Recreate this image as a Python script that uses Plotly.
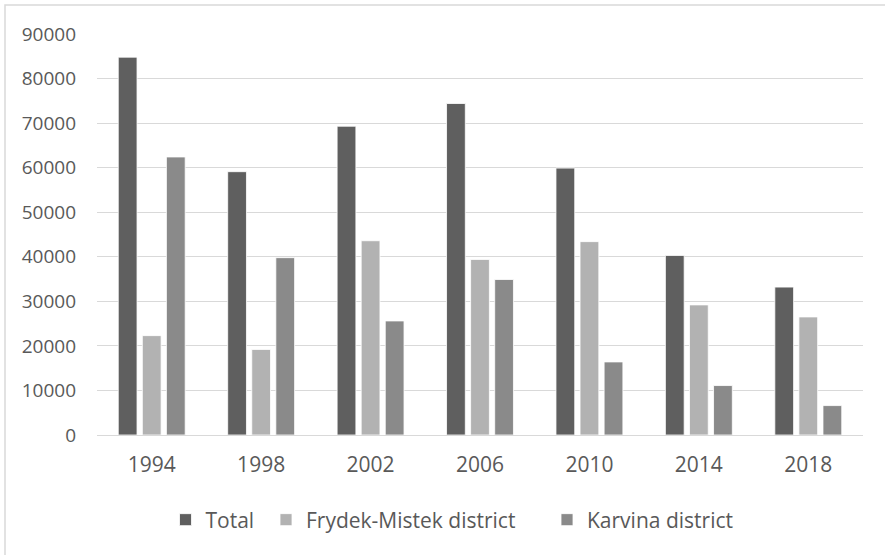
import plotly.graph_objects as go

years = ["1994", "1998", "2002", "2006", "2010", "2014", "2018"]
total = [84800, 59100, 69300, 74400, 59900, 40300, 33200]
frydek = [22300, 19200, 43600, 39400, 43400, 29200, 26500]
karvina = [62400, 39800, 25600, 34900, 16400, 11100, 6600]

series = [
    ("Total", total, "#5f5f5f", "legend"),
    ("Frydek-Mistek district", frydek, "#b2b2b2", "legend2"),
    ("Karvina district", karvina, "#8a8a8a", "legend3"),
]

fig = go.Figure()
for name, vals, col, lg in series:
    fig.add_trace(go.Bar(x=years, y=vals, name=name, legend=lg,
                         marker=dict(color=col, line=dict(color="#ffffff", width=0.8))))

L, R, T, B = 97, 22, 34, 120
W, H = 885, 555
pw, ph = W - L - R, H - T - B

def px(x):
    return (x - L) / pw

def py(y):
    return (H - B - y) / ph

fig.add_shape(type="rect", xref="paper", yref="paper",
              x0=px(5), x1=px(895), y0=py(565), y1=py(5),
              line=dict(color="#d9d9d9", width=1.5), fillcolor="rgba(0,0,0,0)", layer="below")

def leg(xpix):
    return dict(orientation="h", x=px(xpix), xanchor="left", y=py(520), yanchor="middle",
                font=dict(size=21, color="#595959"), itemwidth=30,
                bgcolor="rgba(0,0,0,0)")

fig.update_layout(
    width=W, height=H,
    margin=dict(l=L, r=R, t=T, b=B),
    paper_bgcolor="white", plot_bgcolor="white",
    barmode="group", bargap=0.34, bargroupgap=0.22,
    font=dict(family="Open Sans", size=20, color="#595959"),
    showlegend=True,
    legend=leg(165.5),
    legend2=leg(266),
    legend3=leg(547),
    xaxis=dict(showgrid=False, showline=True, linecolor="#d9d9d9", linewidth=1.3,
               ticks="", ticklabelstandoff=11, tickfont=dict(size=21)),
    yaxis=dict(range=[0, 90000], dtick=10000, showgrid=True, gridcolor="#d9d9d9",
               gridwidth=1.3, zeroline=False, showline=False, ticks="",
               ticklabelstandoff=20, tickformat="d", tickfont=dict(size=19)),
)

fig.write_html("out.html")
